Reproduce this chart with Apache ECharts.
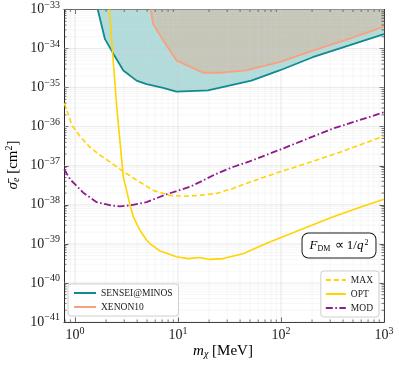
<!DOCTYPE html>
<html><head><meta charset="utf-8">
<script src="https://cdn.jsdelivr.net/npm/echarts@6/dist/echarts.min.js"></script>
<style>html,body{margin:0;padding:0;background:#fff}#c{width:399px;height:366px}</style>
</head><body><div id="c"></div>
<script>
// ---- axis ranges / ticks ----
const xMin = 0.78, xMax = 1000;
const yMinTrue = 1e-41, yMaxTrue = 1e-33;
const xMajorTicks = [1, 10, 100, 1000];
const yMajorExp = [-41, -40, -39, -38, -37, -36, -35, -34, -33];
const minorMult = [2, 3, 4, 5, 6, 7, 8, 9];

// ---- data (cross sections in cm^2) ----
const senseiX = [1.66, 1.95, 2.35, 2.94, 3.95, 4.94, 7.16, 9.64, 19.5, 51.5, 96.6, 203, 459, 1000];
const senseiY = [1e-33, 1.74e-34, 7.4e-35, 2.75e-35, 1.51e-35, 1.23e-35, 9.8e-36, 7.9e-36, 8.5e-36, 1.51e-35, 2.75e-35, 6.0e-35, 1.2e-34, 2.34e-34];

const xenonX = [5.41, 5.73, 7.16, 9.64, 16.2, 17.5, 25.3, 45.8, 96.6, 203, 459, 1000];
const xenonY = [1e-33, 4.27e-34, 1.62e-34, 5.0e-35, 2.63e-35, 2.4e-35, 2.4e-35, 2.75e-35, 4.47e-35, 8.9e-35, 1.78e-34, 3.63e-34];

const maxX = [0.78, 0.80, 0.935, 1.12, 1.40, 1.75, 2.18, 2.83, 3.96, 5.73, 8.32, 11.6, 16.2, 23.5, 34.1, 49.4, 96.6, 203, 367, 1000];
const maxY = [3.98e-36, 3.5e-36, 1.07e-36, 5.6e-37, 2.95e-37, 1.86e-37, 1.26e-37, 7.6e-38, 4.27e-38, 2.34e-38, 1.74e-38, 1.66e-38, 1.74e-38, 1.95e-38, 2.63e-38, 3.8e-38, 6.9e-38, 1.29e-37, 2.19e-37, 5.75e-37];

const optX = [2.15, 2.53, 2.94, 3.16, 3.41, 3.67, 4.26, 4.94, 5.32, 6.64, 7.16, 9.64, 12.5, 16.2, 20.3, 27.3, 42.7, 71.7, 150, 317, 665, 1000];
const optY = [1e-33, 3.47e-36, 5.1e-38, 2.34e-38, 1e-38, 5.0e-39, 2.24e-39, 1.26e-39, 1.02e-39, 6.6e-40, 6.2e-40, 4.7e-40, 4.2e-40, 4.5e-40, 4.0e-40, 4.2e-40, 5.6e-40, 1.02e-39, 2.24e-39, 4.9e-39, 9.8e-39, 1.38e-38];

const modX = [0.783, 0.895, 1.20, 1.62, 2.18, 2.73, 3.54, 4.94, 7.73, 13.0, 16.2, 23.5, 34.1, 49.4, 104, 317, 1000];
const modY = [8.1e-38, 4.47e-38, 2.04e-38, 1.17e-38, 9.8e-39, 9.1e-39, 9.8e-39, 1.17e-38, 1.86e-38, 2.88e-38, 3.8e-38, 6.2e-38, 9.3e-38, 1.29e-37, 2.75e-37, 8.9e-37, 2.34e-36];

// plotting unit: the y axis is drawn in units of 1e-41 cm^2 (labels show true powers)
const Y_EXP0 = -41;
const toPlot = y => y * Math.pow(10, -Y_EXP0);
const yMin = toPlot(yMinTrue), yMax = toPlot(yMaxTrue);
const pairs = (xs, ys) => xs.map((x, i) => [x, toPlot(ys[i])]);

const xMinorTicks = [0.8, 0.9];
[1, 10, 100].forEach(d => minorMult.forEach(m => xMinorTicks.push(m * d)));
const yMajorTicks = yMajorExp.map(e => Math.pow(10, e - Y_EXP0));
const yMinorTicks = [];
yMajorExp.slice(0, -1).forEach(e => minorMult.forEach(m => yMinorTicks.push(m * Math.pow(10, e - Y_EXP0))));

// ---- styles ----
const FONT = 'Liberation Serif';
const INK = '#1a1a1a';
const C_TEAL = '#0f8b8d', C_TEAL_FILL = '#b1dcdb';
const C_SALMON = '#f9a07f', C_XENON_FILL = '#c5c6b8';
const C_GOLD = '#ffd400', C_PURPLE = '#8e1b8e';

const supRich = {
  b: { fontFamily: FONT, fontSize: 14, color: INK, lineHeight: 15 },
  s: { fontFamily: FONT, fontSize: 10, color: INK, lineHeight: 10, padding: [0, 0, 9, 0] }
};
function powLabelWith(offset) {
  return function (v) {
    const l = Math.log10(v);
    const e = Math.round(l);
    if (Math.abs(l - e) > 1e-6) return '';
    const ee = e + offset;
    return '{b|10}{s|' + (ee < 0 ? '\u2212' + (-ee) : ee) + '}';
  };
}

function gridItem(isX) {
  return function (params, api) {
    const v = api.value(isX ? 0 : 1);
    const major = api.value(2) === 1;
    const a = isX ? api.coord([v, yMin]) : api.coord([xMin, v]);
    const b = isX ? api.coord([v, yMax]) : api.coord([xMax, v]);
    const children = [{
      type: 'line', shape: { x1: a[0], y1: a[1], x2: b[0], y2: b[1] },
      style: { stroke: major ? 'rgba(205,205,205,0.55)' : 'rgba(215,215,215,0.35)', lineWidth: major ? 0.8 : 0.6 }
    }];
    if (!major) {
      const L = 2.5;
      if (isX) {
        children.push({ type: 'line', shape: { x1: a[0], y1: a[1], x2: a[0], y2: a[1] - L }, style: { stroke: INK, lineWidth: 0.6 } });
        children.push({ type: 'line', shape: { x1: b[0], y1: b[1], x2: b[0], y2: b[1] + L }, style: { stroke: INK, lineWidth: 0.6 } });
      } else {
        children.push({ type: 'line', shape: { x1: a[0], y1: a[1], x2: a[0] + L, y2: a[1] }, style: { stroke: INK, lineWidth: 0.6 } });
        children.push({ type: 'line', shape: { x1: b[0], y1: b[1], x2: b[0] - L, y2: b[1] }, style: { stroke: INK, lineWidth: 0.6 } });
      }
    }
    return { type: 'group', children: children };
  };
}

const xGridData = xMajorTicks.map(v => [v, yMin, 1]).concat(xMinorTicks.map(v => [v, yMin, 0]));
const yGridData = yMajorTicks.map(v => [xMin, v, 1]).concat(yMinorTicks.map(v => [xMin, v, 0]));

const baseAxis = {
  type: 'log', logBase: 10,
  axisLine: { show: true, onZero: false, lineStyle: { color: INK, width: 1 } },
  axisTick: { show: true, inside: true, length: 4.5, lineStyle: { color: INK, width: 0.8 } },
  splitLine: { show: false },
  minorTick: { show: false }, minorSplitLine: { show: false }
};

const legendCommon = {
  orient: 'vertical', itemHeight: 8, itemGap: 4,
  borderColor: '#cfcfcf', borderWidth: 1, borderRadius: 3,
  backgroundColor: 'rgba(255,255,255,0.85)',
  itemStyle: { opacity: 0 },
  textStyle: { fontFamily: FONT, fontSize: 9.5, color: INK }
};

const chart = echarts.init(document.getElementById('c'), null, { renderer: 'canvas' });
chart.setOption({
  animation: false,
  backgroundColor: '#fff',
  grid: { left: 64, right: 15, top: 9, bottom: 44 },
  xAxis: [
    Object.assign({}, baseAxis, {
      min: xMin, max: xMax, position: 'bottom',
      axisLabel: { show: true, margin: 6, formatter: powLabelWith(0), rich: supRich, showMinLabel: true, showMaxLabel: true }
    }),
    Object.assign({}, baseAxis, { min: xMin, max: xMax, position: 'top', axisLabel: { show: false } })
  ],
  yAxis: [
    Object.assign({}, baseAxis, {
      min: yMin, max: yMax, position: 'left',
      axisLabel: { show: true, margin: 4, formatter: powLabelWith(Y_EXP0), rich: supRich, showMinLabel: true, showMaxLabel: true }
    }),
    Object.assign({}, baseAxis, { min: yMin, max: yMax, position: 'right', axisLabel: { show: false } })
  ],
  legend: [
    Object.assign({}, legendCommon, {
      data: ['SENSEI@MINOS', 'XENON10'], left: 68, top: 284, itemWidth: 22, padding: [4, 6, 4, 5]
    }),
    Object.assign({}, legendCommon, {
      data: ['MAX', 'OPT', 'MOD'], right: 20, top: 271, itemWidth: 20, padding: [4, 6, 4, 4]
    })
  ],
  graphic: [
    {
      type: 'text', x: 339, y: 245.5, z: 100,
      style: {
        text: '{i|F}{sub|DM}{r| \u221D 1/}{i|q}{sup|2}',
        align: 'center', verticalAlign: 'middle',
        backgroundColor: '#fff', borderColor: INK, borderWidth: 1, borderRadius: 6,
        padding: [5, 7, 4, 7],
        rich: {
          i: { fontFamily: FONT, fontStyle: 'italic', fontSize: 13, color: INK },
          r: { fontFamily: FONT, fontSize: 13, color: INK },
          sub: { fontFamily: FONT, fontSize: 8, color: INK, padding: [6, 1, 0, 0] },
          sup: { fontFamily: FONT, fontSize: 8, color: INK, padding: [0, 0, 7, 1] }
        }
      }
    },
    {
      type: 'text', x: 223, y: 351,
      style: {
        text: '{i|m}{sub|\u03C7}{r| [MeV]}',
        align: 'center', verticalAlign: 'middle',
        rich: {
          i: { fontFamily: FONT, fontStyle: 'italic', fontSize: 15, color: INK },
          r: { fontFamily: FONT, fontSize: 15, color: INK },
          sub: { fontFamily: FONT, fontStyle: 'italic', fontSize: 10, color: INK, padding: [6, 0, 0, 0] }
        }
      }
    },
    {
      type: 'text', x: 13, y: 165, rotation: Math.PI / 2,
      style: {
        text: '{i|\u03C3\u0304}{sub|e}{r| [cm}{sup|2}{r|]}',
        align: 'center', verticalAlign: 'middle',
        rich: {
          i: { fontFamily: FONT, fontStyle: 'italic', fontSize: 15, color: INK },
          r: { fontFamily: FONT, fontSize: 15, color: INK },
          sub: { fontFamily: FONT, fontStyle: 'italic', fontSize: 10, color: INK, padding: [6, 0, 0, 0] },
          sup: { fontFamily: FONT, fontSize: 10, color: INK, padding: [0, 0, 8, 0] }
        }
      }
    }
  ],
  series: [
    { name: 'senseiFill', type: 'line', data: pairs(senseiX, senseiY), symbol: 'none', z: 1,
      lineStyle: { width: 0 }, areaStyle: { origin: 'end', color: C_TEAL_FILL, opacity: 1 }, silent: true },
    { name: 'xenonFill', type: 'line', data: pairs(xenonX, xenonY), symbol: 'none', z: 1,
      lineStyle: { width: 0 }, areaStyle: { origin: 'end', color: C_XENON_FILL, opacity: 1 }, silent: true },
    { name: 'xgrid', type: 'custom', data: xGridData, renderItem: gridItem(true), z: 2, silent: true },
    { name: 'ygrid', type: 'custom', data: yGridData, renderItem: gridItem(false), z: 2, silent: true },
    { name: 'SENSEI@MINOS', type: 'line', data: pairs(senseiX, senseiY), symbol: 'none', z: 3,
      color: C_TEAL, lineStyle: { color: C_TEAL, width: 1.8 } },
    { name: 'XENON10', type: 'line', data: pairs(xenonX, xenonY), symbol: 'none', z: 3,
      color: C_SALMON, lineStyle: { color: C_SALMON, width: 1.8 } },
    { name: 'MAX', type: 'line', data: pairs(maxX, maxY), symbol: 'none', z: 4,
      color: C_GOLD, lineStyle: { color: C_GOLD, width: 1.6, type: [5, 3] } },
    { name: 'OPT', type: 'line', data: pairs(optX, optY), symbol: 'none', z: 4,
      color: C_GOLD, lineStyle: { color: C_GOLD, width: 1.6 } },
    { name: 'MOD', type: 'line', data: pairs(modX, modY), symbol: 'none', z: 4,
      color: C_PURPLE, lineStyle: { color: C_PURPLE, width: 1.8, type: [7, 2.5, 1.6, 2.5] } }
  ]
});
</script>
</body></html>
